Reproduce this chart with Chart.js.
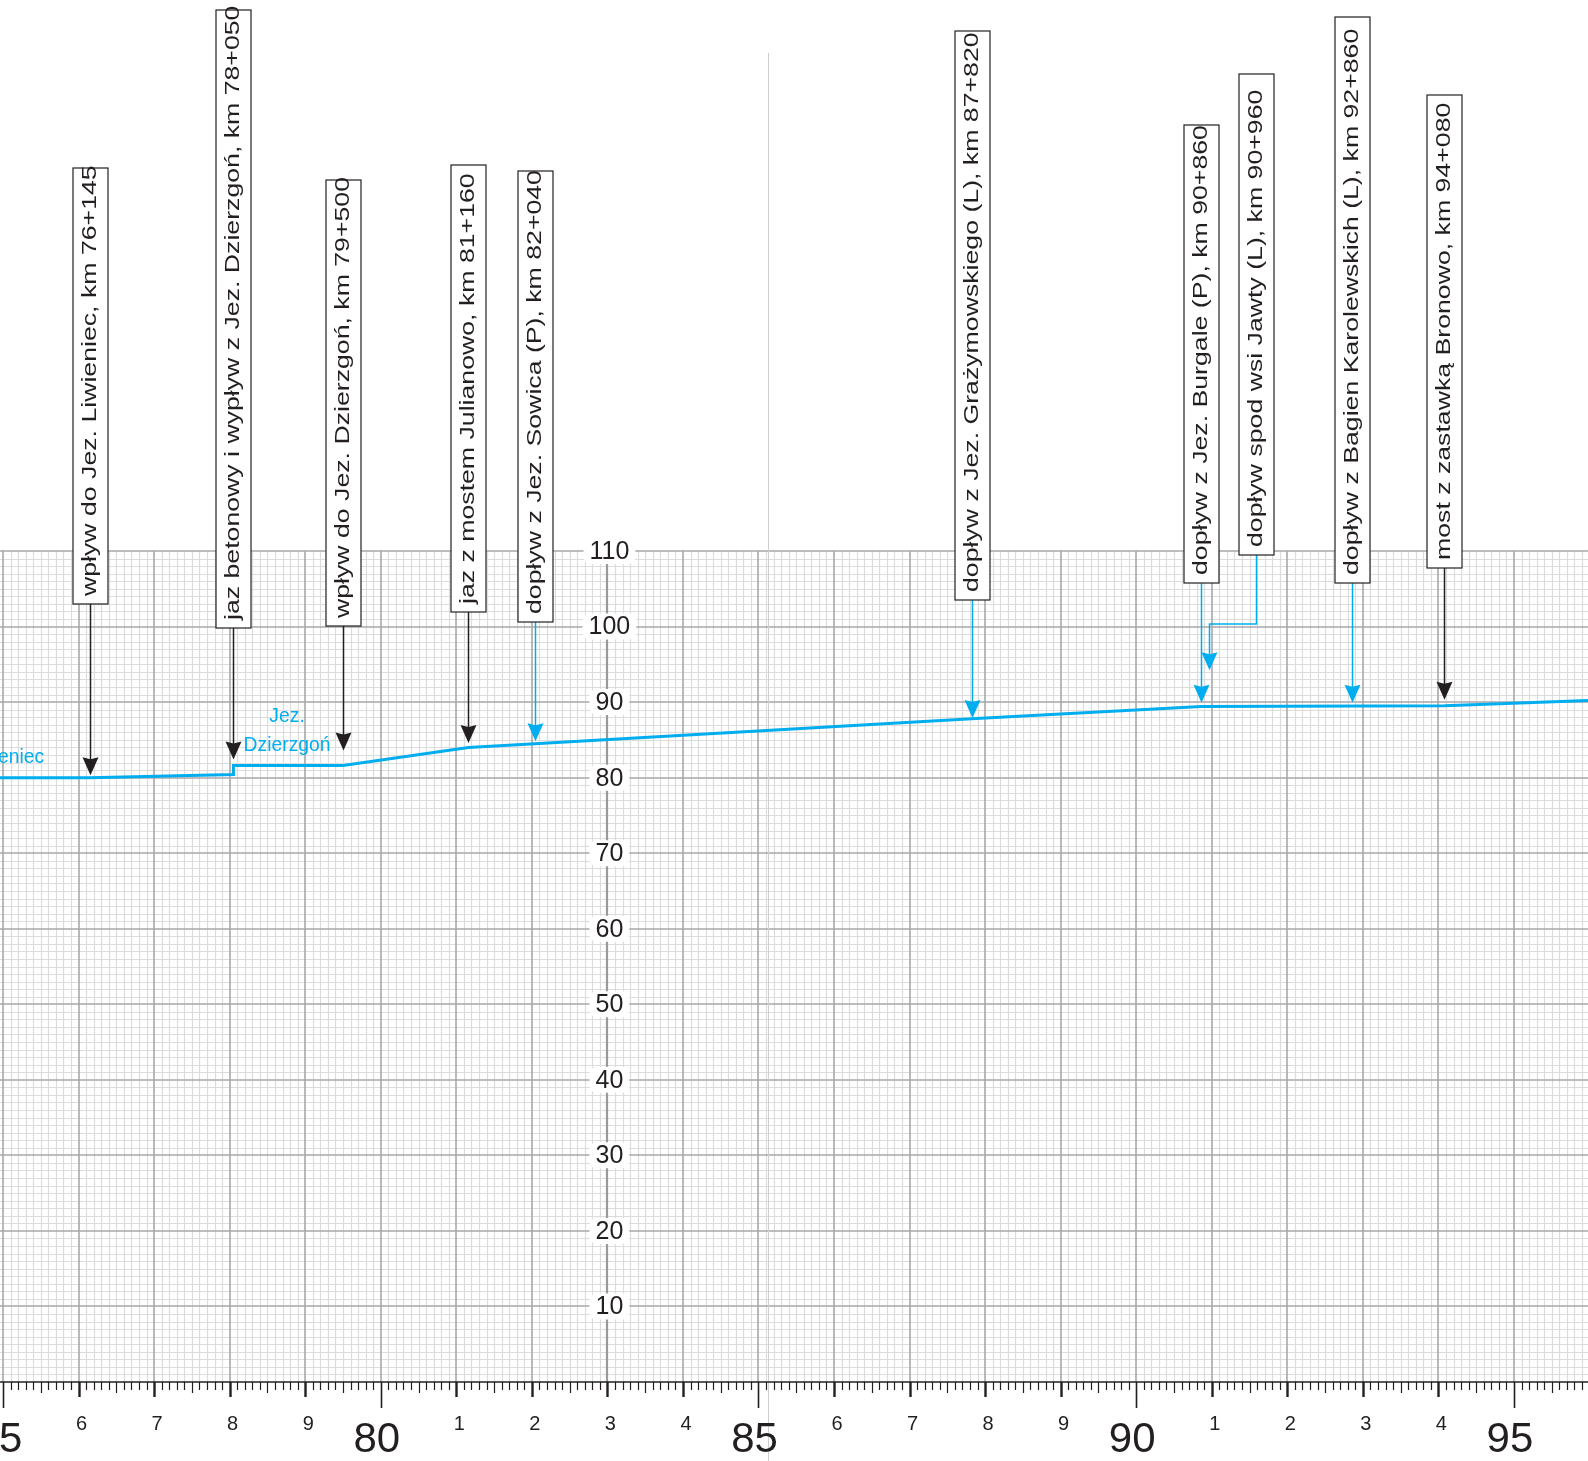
<!DOCTYPE html>
<html lang="pl">
<head>
<meta charset="utf-8">
<title>Profil podłużny, km 75–96</title>
<script src="https://cdn.jsdelivr.net/npm/chart.js@4.4.1/dist/chart.umd.min.js"></script>
<style>
  html, body { margin: 0; padding: 0; background: #fff; overflow: hidden; }
  canvas { display: block; }
</style>
</head>
<body>
<canvas id="profil" width="1588" height="1461"></canvas>
<script>
// Profil zwierciadła wody: kilometraż [km] i rzędna [m n.p.m.]
const profileKm   = [74.96, 76.145, 78.05, 78.05, 79.5, 81.16, 82.04, 87.82, 90.86, 94.08, 95.98];
const profileElev = [80.0,  80.0,   80.4,  81.6,  81.6, 84.0,  84.5,  87.8,  89.4,  89.5,  90.2];

// Obiekty na trasie i dopływy
const objectKm = [76.145, 78.05, 79.5, 81.16, 82.04, 87.82, 90.86, 90.96, 92.86, 94.08];
const objectLabel = [
  'wpływ do Jez. Liwieniec, km 76+145',
  'jaz betonowy i wypływ z Jez. Dzierzgoń, km 78+050',
  'wpływ do Jez. Dzierzgoń, km 79+500',
  'jaz z mostem Julianowo, km 81+160',
  'dopływ z Jez. Sowica (P), km 82+040',
  'dopływ z Jez. Grażymowskiego (L), km 87+820',
  'dopływ z Jez. Burgale (P), km 90+860',
  'dopływ spod wsi Jawty (L), km 90+960',
  'dopływ z Bagien Karolewskich (L), km 92+860',
  'most z zastawką Bronowo, km 94+080'
];
const objectIsInflow = [false, false, false, false, true, true, true, true, true, false];
// rzędna końca strzałki
const arrowEndElev = [80.3, 82.4, 83.6, 84.6, 84.8, 87.9, 89.9, 94.2, 89.9, 90.3];

// Jeziora
const lakeName = [['Jez. Liwieniec'], ['Jez.', 'Dzierzgoń']];
const lakeKm   = [74.75, 78.76];
const lakeElev = [82.0, 87.4];

// Osie
const kmMin = 74.96, kmMax = 95.98;
const elevMin = 0, elevMax = 110;
const elevTickLabels = [10, 20, 30, 40, 50, 60, 70, 80, 90, 100, 110];
const elevAxisKm = 83;

// Rozmieszczenie ramek opisów (px): górna i dolna krawędź, przesunięcie w bok
const boxHead  = [168, 10, 180, 165, 171, 31, 125, 74, 17, 95];
const boxFoot  = [604, 628, 626, 612, 622, 600, 583, 555, 583, 568];
const boxShift = [0, 0, 0, 0, 0, 0, 0, 47, 0, 0];
const elbowY   = [null, null, null, null, null, null, null, 624, null, null];

const INK = '#231f20';
const BLUE = '#00aeef';
const FONT = '"Liberation Sans", Arial, Helvetica, sans-serif';

function arrowHead(ctx, x, y, color) {
  ctx.fillStyle = color;
  ctx.beginPath();
  ctx.moveTo(x, y);
  ctx.lineTo(x - 8, y - 18);
  ctx.lineTo(x, y - 16);
  ctx.lineTo(x + 8, y - 18);
  ctx.closePath();
  ctx.fill();
}

const paperPlugin = {
  id: 'paper',
  beforeDraw(chart) {
    const ctx = chart.ctx;
    ctx.save();
    ctx.fillStyle = '#fff';
    ctx.fillRect(0, 0, chart.width, chart.height);
    ctx.restore();
  },
  beforeDatasetsDraw(chart) {
    const { ctx, chartArea: a, scales: { x, y } } = chart;
    ctx.save();
    // siatka drobna
    ctx.strokeStyle = '#dcdcdc';
    ctx.lineWidth = 1.2;
    ctx.beginPath();
    for (let i = Math.ceil(kmMin * 10); i <= Math.floor(kmMax * 10); i++) {
      if (i % 10 === 0) continue;
      const px = Math.round(x.getPixelForValue(i / 10)) + 0.5;
      ctx.moveTo(px, a.top); ctx.lineTo(px, a.bottom);
    }
    for (let v = elevMin; v <= elevMax; v++) {
      if (v % 10 === 0) continue;
      const py = Math.round(y.getPixelForValue(v)) + 0.5;
      ctx.moveTo(a.left, py); ctx.lineTo(a.right, py);
    }
    ctx.stroke();
    // siatka główna
    ctx.strokeStyle = '#a8a8aa';
    ctx.lineWidth = 1.6;
    ctx.beginPath();
    for (let k = Math.ceil(kmMin); k <= Math.floor(kmMax); k++) {
      if (k === elevAxisKm) continue;
      const px = Math.round(x.getPixelForValue(k));
      ctx.moveTo(px, a.top); ctx.lineTo(px, a.bottom);
    }
    for (let v = elevMin + 10; v <= elevMax; v += 10) {
      const py = Math.round(y.getPixelForValue(v));
      ctx.moveTo(a.left, py); ctx.lineTo(a.right, py);
    }
    ctx.stroke();
    // oś rzędnych
    ctx.strokeStyle = '#9a9a9c';
    ctx.lineWidth = 2.2;
    ctx.beginPath();
    const ax = Math.round(x.getPixelForValue(elevAxisKm));
    ctx.moveTo(ax, a.top); ctx.lineTo(ax, a.bottom);
    ctx.stroke();
    // linia podziału arkusza
    ctx.strokeStyle = '#cfcfcf';
    ctx.lineWidth = 1;
    ctx.beginPath();
    const sx = Math.round(x.getPixelForValue(85.126)) + 0.5;
    ctx.moveTo(sx, 53); ctx.lineTo(sx, chart.height);
    ctx.stroke();
    ctx.restore();
  },
  afterDatasetsDraw(chart) {
    const { ctx, chartArea: a, scales: { x, y } } = chart;
    ctx.save();

    // oś kilometrażu
    const y0 = y.getPixelForValue(0);
    ctx.strokeStyle = INK;
    ctx.lineWidth = 1.6;
    ctx.beginPath();
    ctx.moveTo(a.left, y0); ctx.lineTo(a.right, y0);
    ctx.stroke();
    for (let i = Math.ceil(kmMin * 10); i <= Math.floor(kmMax * 10); i++) {
      const px = Math.round(x.getPixelForValue(i / 10)) + 0.5;
      let len = 8, w = 1.2;
      if (i % 50 === 0) { len = 26; w = 1.6; }
      else if (i % 10 === 0) { len = 15; w = 2.4; }
      else if (i % 5 === 0) { len = 11; w = 1.2; }
      ctx.lineWidth = w;
      ctx.beginPath();
      ctx.moveTo(px, y0); ctx.lineTo(px, y0 + len);
      ctx.stroke();
    }
    ctx.fillStyle = INK;
    ctx.textAlign = 'center';
    ctx.textBaseline = 'alphabetic';
    for (let k = Math.ceil(kmMin) ; k <= Math.ceil(kmMax); k++) {
      const px = x.getPixelForValue(k);
      if (k % 5 === 0) {
        ctx.font = '42px ' + FONT;
        ctx.fillText(String(k), px - 4, y0 + 70);
      } else {
        ctx.font = '20px ' + FONT;
        ctx.fillText(String(k % 10), px + 3, y0 + 48);
      }
    }

    // opisy rzędnych
    ctx.font = '25px ' + FONT;
    ctx.textBaseline = 'middle';
    const lx = x.getPixelForValue(elevAxisKm) + 2;
    elevTickLabels.forEach(v => {
      const py = y.getPixelForValue(v);
      const t = String(v);
      const w = ctx.measureText(t).width + 12;
      ctx.fillStyle = '#fff';
      ctx.beginPath();
      ctx.roundRect(lx - w / 2, py - 13, w, 26, 7);
      ctx.fill();
      ctx.fillStyle = INK;
      ctx.fillText(t, lx, py + 1);
    });

    // nazwy jezior
    ctx.font = '21px ' + FONT;
    ctx.fillStyle = BLUE;
    ctx.textBaseline = 'alphabetic';
    lakeName.forEach((lines, i) => {
      const px = x.getPixelForValue(lakeKm[i]);
      const py = y.getPixelForValue(lakeElev[i]);
      lines.forEach((t, j) => {
        ctx.save();
        ctx.translate(px, py + j * 29);
        ctx.scale(0.92, 1);
        ctx.fillText(t, 0, 0);
        ctx.restore();
      });
    });

    // obiekty: ramki z opisem i strzałki
    const stretch = 1.27;
    objectKm.forEach((km, i) => {
      const color = objectIsInflow[i] ? BLUE : INK;
      const ax = Math.round(x.getPixelForValue(km)) + 0.5;
      const tipY = y.getPixelForValue(arrowEndElev[i]);
      const cx = ax + boxShift[i];
      const bottom = boxFoot[i];
      const top = boxHead[i];

      // strzałka
      ctx.strokeStyle = color;
      ctx.lineWidth = 1.5;
      ctx.beginPath();
      ctx.moveTo(cx, bottom);
      if (elbowY[i] !== null) {
        ctx.lineTo(cx, elbowY[i]);
        ctx.lineTo(ax, elbowY[i]);
      }
      ctx.lineTo(ax, tipY - 12);
      ctx.stroke();
      arrowHead(ctx, ax, tipY, color);

      // ramka
      ctx.fillStyle = '#fff';
      ctx.fillRect(cx - 17.5, top, 35, bottom - top);
      ctx.strokeStyle = INK;
      ctx.lineWidth = 1.2;
      ctx.strokeRect(cx - 17.5, top, 35, bottom - top);

      // opis
      ctx.save();
      ctx.font = '21px ' + FONT;
      ctx.translate(cx + 5.5, bottom - 8);
      ctx.rotate(-Math.PI / 2);
      ctx.scale(stretch, 1);
      ctx.fillStyle = INK;
      ctx.textAlign = 'left';
      ctx.textBaseline = 'alphabetic';
      ctx.fillText(objectLabel[i], 0, 0);
      ctx.restore();
    });
    ctx.restore();
  }
};

new Chart(document.getElementById('profil'), {
  type: 'line',
  data: {
    datasets: [{
      label: 'Zwierciadło wody',
      data: profileKm.map((km, i) => ({ x: km, y: profileElev[i] })),
      borderColor: BLUE,
      borderWidth: 3,
      pointRadius: 0,
      tension: 0,
      fill: false
    }]
  },
  options: {
    responsive: false,
    animation: false,
    devicePixelRatio: 1,
    layout: { padding: { left: 0, right: 0, top: 551, bottom: 79 } },
    plugins: { legend: { display: false }, tooltip: { enabled: false } },
    scales: {
      x: { type: 'linear', min: kmMin, max: kmMax, display: false },
      y: { type: 'linear', min: elevMin, max: elevMax, display: false }
    }
  },
  plugins: [paperPlugin]
});
</script>
</body>
</html>
